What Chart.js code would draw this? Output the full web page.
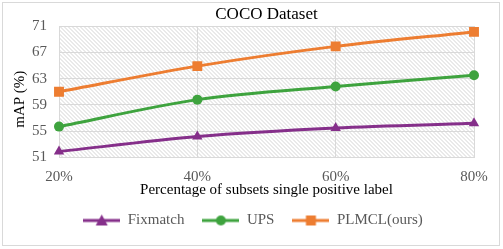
<!DOCTYPE html>
<html>
<head>
<meta charset="utf-8">
<script src="https://cdn.jsdelivr.net/npm/chart.js@4"></script>
<style>
  html, body { margin: 0; padding: 0; background: #fff; }
  #wrap { width: 503px; height: 249px; }
</style>
</head>
<body>
<div id="wrap"><canvas id="chart" width="503" height="249"></canvas></div>
<script>
const labels = ['20%', '40%', '60%', '80%'];
const fixmatch = [51.9, 54.2, 55.5, 56.2];
const ups = [55.7, 59.8, 61.8, 63.5];
const plmcl = [61.0, 64.9, 67.9, 70.1];

const serif = '"Liberation Serif", "Times New Roman", serif';
const colors = { fix: '#852f8a', ups: '#3ea33e', plm: '#ed7d31' };

// legend symbol: short line with the marker in the middle
function legendIcon(color, shape) {
  const c = document.createElement('canvas');
  c.width = 37; c.height = 14;
  const g = c.getContext('2d');
  g.strokeStyle = color; g.fillStyle = color; g.lineWidth = 3;
  g.beginPath(); g.moveTo(0, 7); g.lineTo(37, 7); g.stroke();
  g.beginPath();
  if (shape === 'triangle') {
    g.moveTo(18.5, 1); g.lineTo(24.5, 12); g.lineTo(12.5, 12); g.closePath();
  } else if (shape === 'circle') {
    g.arc(18.5, 7, 5, 0, Math.PI * 2);
  } else {
    g.rect(13.5, 2, 10, 10);
  }
  g.fill();
  return c;
}
const icons = [legendIcon(colors.fix, 'triangle'), legendIcon(colors.ups, 'circle'), legendIcon(colors.plm, 'rect')];

const frameAndHatch = {
  id: 'frameAndHatch',
  beforeDraw(chart) {
    const ctx = chart.ctx;
    const a = chart.chartArea;
    // centre the legend under the whole picture, not the padded box
    if (chart.legend) {
      chart.legend.left = 32;
      chart.legend.right = 474;
    }
    ctx.save();
    ctx.strokeStyle = '#d9d9d9';
    ctx.lineWidth = 1;
    ctx.strokeRect(2.5, 2.5, 497, 243);
    ctx.beginPath();
    ctx.rect(a.left, a.top, a.right - a.left, a.bottom - a.top);
    ctx.clip();
    ctx.strokeStyle = '#d4d4d4';
    const h = a.bottom - a.top;
    ctx.beginPath();
    for (let k = -h; k < a.right - a.left; k += 4) {
      ctx.moveTo(a.left + k, a.top);
      ctx.lineTo(a.left + k + h, a.bottom);
    }
    ctx.stroke();
    ctx.restore();
  }
};

new Chart(document.getElementById('chart'), {
  type: 'line',
  data: {
    labels: labels,
    datasets: [
      {
        label: 'Fixmatch', data: fixmatch,
        borderColor: colors.fix, backgroundColor: colors.fix,
        pointStyle: 'triangle', pointRadius: 6
      },
      {
        label: 'UPS', data: ups,
        borderColor: colors.ups, backgroundColor: colors.ups,
        pointStyle: 'circle', pointRadius: 5
      },
      {
        label: 'PLMCL(ours)', data: plmcl,
        borderColor: colors.plm, backgroundColor: colors.plm,
        pointStyle: 'rect', pointRadius: 7
      }
    ]
  },
  options: {
    responsive: false,
    animation: false,
    events: [],
    layout: { padding: { left: 11, right: 29, top: 4, bottom: 11 } },
    elements: {
      line: { borderWidth: 3, tension: 0.3, fill: false },
      point: { borderWidth: 0 }
    },
    plugins: {
      tooltip: { enabled: false },
      title: {
        display: true,
        text: 'COCO Dataset',
        fullSize: false,
        color: '#000',
        font: { family: serif, size: 17, weight: 'normal' },
        padding: { top: 0, bottom: 1.6 }
      },
      legend: {
        position: 'bottom',
        labels: {
          usePointStyle: true,
          pointStyleWidth: 37,
          boxHeight: 14,
          padding: 18,
          color: '#595959',
          font: { family: serif, size: 15 },
          generateLabels(chart) {
            const items = Chart.defaults.plugins.legend.labels.generateLabels(chart);
            items.forEach((it, i) => { it.pointStyle = icons[i]; it.rotation = 0; });
            return items;
          }
        }
      }
    },
    scales: {
      x: {
        offset: false,
        grid: { color: '#d9d9d9', drawTicks: false },
        border: { display: false },
        ticks: { color: '#595959', padding: 11, font: { family: serif, size: 15 } },
        title: {
          display: true,
          text: 'Percentage of subsets single positive label',
          color: '#000',
          font: { family: serif, size: 15 },
          padding: { top: 0, bottom: -4 }
        },
        afterFit(scale) { scale.height = 37.5; }
      },
      y: {
        min: 51, max: 71,
        grid: { color: '#d9d9d9', drawTicks: false },
        border: { display: false },
        ticks: { stepSize: 4, color: '#595959', padding: 12, font: { family: serif, size: 15 } },
        title: {
          display: true,
          text: 'mAP (%)    ',
          color: '#000',
          font: { family: serif, size: 15 },
          padding: { top: 0, bottom: 0 }
        },
        afterFit(scale) { scale.width = 48; }
      }
    }
  },
  plugins: [frameAndHatch]
});
</script>
</body>
</html>
